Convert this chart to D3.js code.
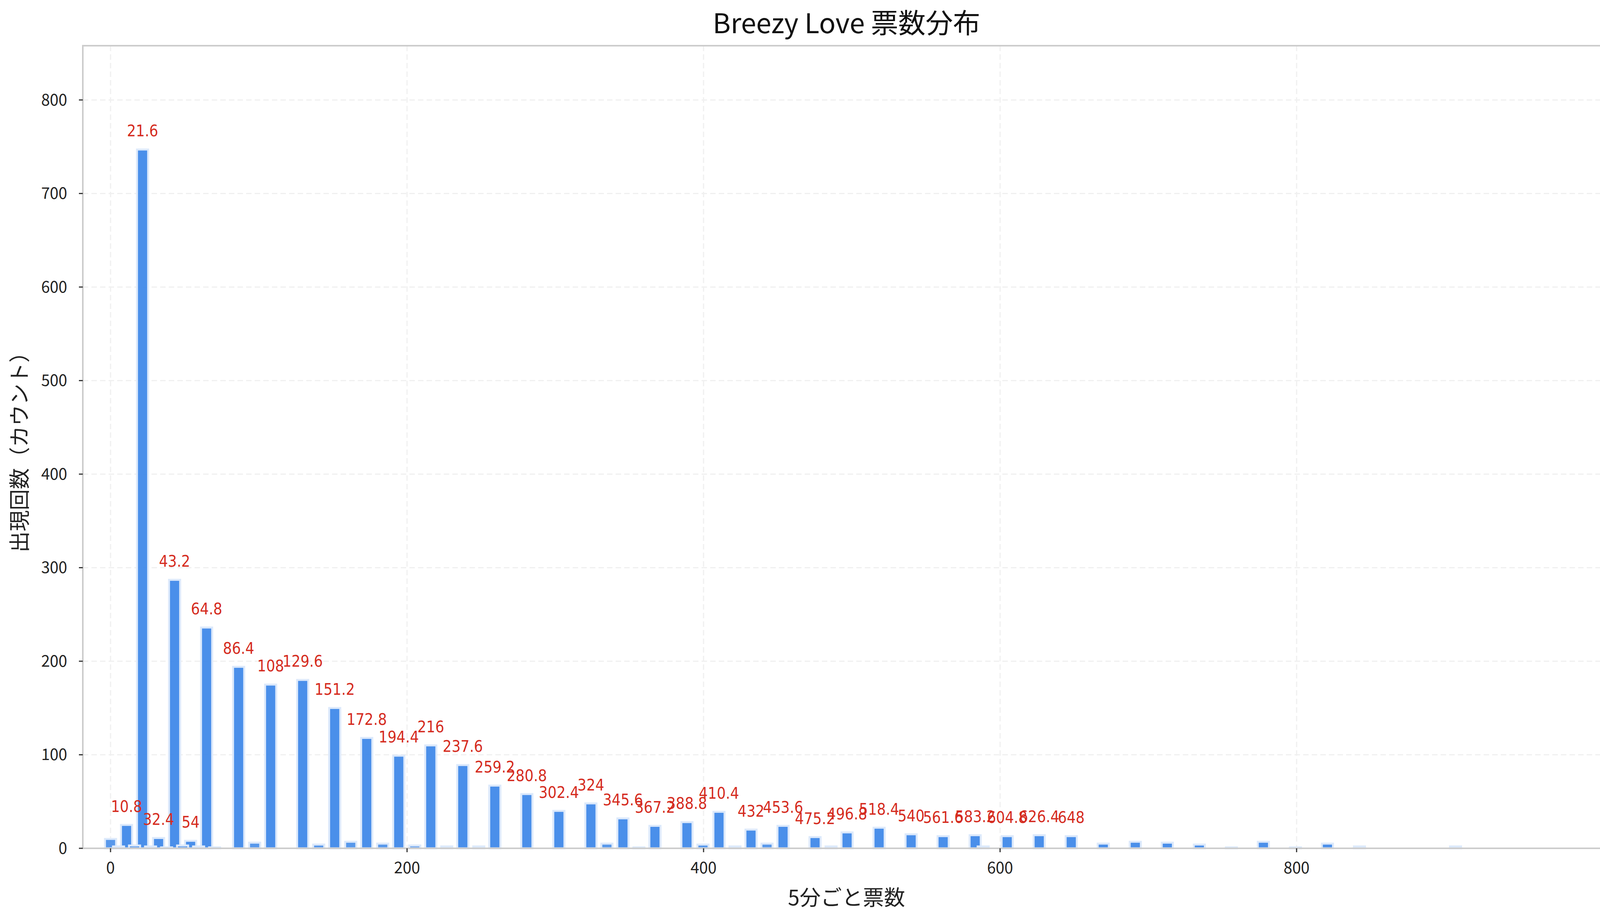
<!DOCTYPE html>
<html><head><meta charset="utf-8">
<script src="https://cdn.jsdelivr.net/npm/d3@7"></script>
<style>body{margin:0;background:#fff}text{font-family:"Noto Sans CJK JP","DejaVu Sans",sans-serif}.lab{font-family:"Liberation Sans Narrow","DejaVu Sans Condensed",sans-serif}</style>
</head><body><svg id="c" width="4154" height="2353"></svg>
<script>
const mainValues=[10.8,21.6,32.4,43.2,54,64.8,86.4,108,129.6,151.2,172.8,194.4,216,237.6,259.2,280.8,302.4,324,345.6,367.2,388.8,410.4,432,453.6,475.2,496.8,518.4,540,561.6,583.2,604.8,626.4,648,669.6,691.2,712.8,734.4,756,777.6,799.2,820.8,842.4,907.2];
const mainCounts=[25,747,11,287,8,236,194,175,180,150,118,99,110,89,67,58,40,48,32,24,28,39,20,24,12,17,22,15,13,14,13,14,13,5,7,6,4,1,7,1,5,2,2];
const labelTexts=["10.8","21.6","32.4","43.2","54","64.8","86.4","108","129.6","151.2","172.8","194.4","216","237.6","259.2","280.8","302.4","324","345.6","367.2","388.8","410.4","432","453.6","475.2","496.8","518.4","540","561.6","583.2","604.8","626.4","648"];
const extraValues=[0,5.4,16.2,27,37.8,48.6,59.4,70.2,97.2,140.4,162,183.6,205.2,226.8,248.4,334.8,356.4,399.6,421.2,442.8,486,588.6];
const extraCounts=[10,2,3,2,1,3,2,1,6,4,7,5,3,2,2,5,1,4,2,5,2,2];
const xTicks=[0,200,400,600,800];
const yTicks=[0,100,200,300,400,500,600,700,800];
const svg=d3.select("#c");
const L=212,R=4122,T=117,B=2172;
const x=d3.scaleLinear().domain([-18.7,1011.5]).range([L,R]);
const y=d3.scaleLinear().domain([0,858]).range([B,T]);
const g=svg.append("g");
g.selectAll(".gy").data(yTicks).join("line").attr("x1",L).attr("x2",R).attr("y1",d=>y(d)).attr("y2",d=>y(d)).attr("stroke","#f0f0f0").attr("stroke-width",3).attr("stroke-dasharray","14,8");
g.selectAll(".gx").data(xTicks).join("line").attr("y1",T).attr("y2",B).attr("x1",d=>x(d)).attr("x2",d=>x(d)).attr("stroke","#f0f0f0").attr("stroke-width",3).attr("stroke-dasharray","14,8");
const bw=x(7.5)-x(0);
function bars(vals,counts,op){
 g.append("g").selectAll("rect").data(vals.map((v,i)=>[v,counts[i]])).join("rect")
  .attr("x",d=>x(d[0])-bw/2).attr("width",bw).attr("y",d=>y(d[1])).attr("height",d=>B-y(d[1]))
  .attr("fill","#3b86e8").attr("fill-opacity",op).attr("stroke","#dce9fb").attr("stroke-width",5);
}
bars(mainValues,mainCounts,0.92);
bars(extraValues,extraCounts,0.85);
g.append("g").selectAll("text").data(labelTexts).join("text").attr("class","lab")
 .attr("x",(d,i)=>x(mainValues[i])).attr("y",(d,i)=>y(mainCounts[i]+14)).attr("text-anchor","middle")
 .attr("fill","#d52b1e").attr("font-size",40).text(d=>d);
svg.append("rect").attr("x",L).attr("y",T).attr("width",R-L).attr("height",B-T).attr("fill","none").attr("stroke","#ccc").attr("stroke-width",4);
svg.selectAll(".xt").data(xTicks).join("text").attr("x",d=>x(d)).attr("y",B+64).attr("text-anchor","middle").attr("font-size",40).attr("fill","#222").text(d=>d);
svg.selectAll(".yt").data(yTicks).join("text").attr("x",L-40).attr("y",d=>y(d)+14).attr("text-anchor","end").attr("font-size",40).attr("fill","#222").text(d=>d);
svg.selectAll(".xtk").data(xTicks).join("line").attr("x1",d=>x(d)).attr("x2",d=>x(d)).attr("y1",B).attr("y2",B+10).attr("stroke","#333").attr("stroke-width",3);
svg.selectAll(".ytk").data(yTicks).join("line").attr("y1",d=>y(d)).attr("y2",d=>y(d)).attr("x1",L).attr("x2",L-10).attr("stroke","#333").attr("stroke-width",3);
svg.append("text").attr("x",(L+R)/2).attr("y",2318).attr("text-anchor","middle").attr("font-size",54).attr("fill","#222").text("5分ごと票数");
svg.append("text").attr("transform",`translate(70,${(T+B)/2}) rotate(-90)`).attr("text-anchor","middle").attr("font-size",54).attr("fill","#222").text("出現回数（カウント）");
svg.append("text").attr("x",(L+R)/2).attr("y",85).attr("text-anchor","middle").attr("font-size",70).attr("fill","#111").text("Breezy Love 票数分布");
</script></body></html>
